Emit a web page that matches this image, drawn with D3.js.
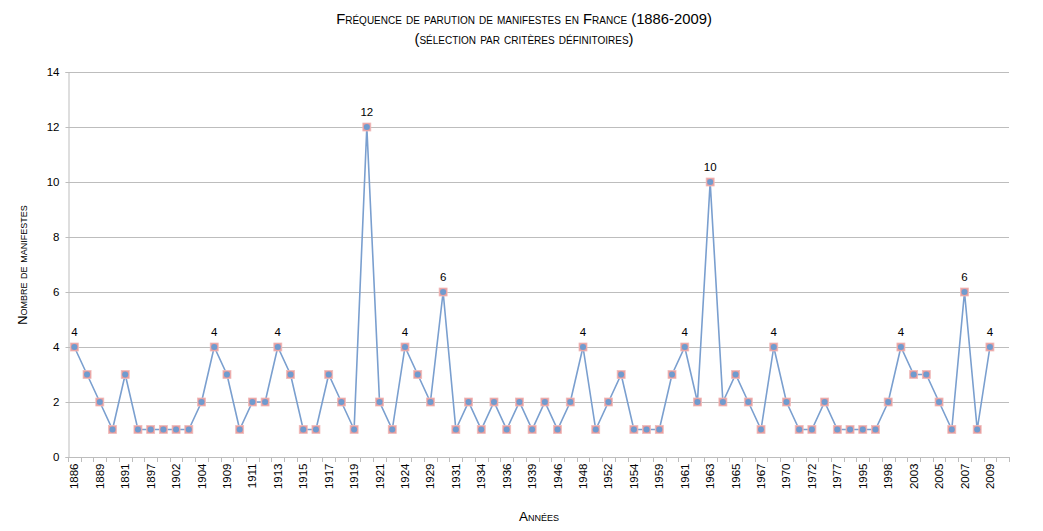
<!DOCTYPE html>
<html><head><meta charset="utf-8">
<script src="https://cdn.jsdelivr.net/npm/d3@7"></script>
<style>
body{margin:0;background:#fff;}
svg{display:block;}
text{fill:#000;}
</style></head>
<body><svg id="c" width="1043" height="531"></svg>
<script>
const years = ["1886","1888","1889","1890","1891","1895","1897","1900","1902","1903","1904","1906","1909","1910","1911","1912","1913","1914","1915","1916","1917","1918","1919","1920","1921","1922","1924","1925","1929","1930","1931","1932","1934","1935","1936","1937","1939","1945","1946","1947","1948","1950","1952","1953","1954","1955","1959","1960","1961","1962","1963","1964","1965","1966","1967","1968","1970","1971","1972","1975","1977","1980","1995","1996","1998","2000","2003","2004","2005","2006","2007","2008","2009"];
const counts = [4,3,2,1,3,1,1,1,1,1,2,4,3,1,2,2,4,3,1,1,3,2,1,12,2,
                1,4,3,2,6,1,2,1,2,1,2,1,2,1,2,4,1,2,3,1,1,1,3,4,2,
                10,2,3,2,1,4,2,1,1,2,1,1,1,1,2,4,3,3,2,1,6,1,4];
const yTicks = [0,2,4,6,8,10,12,14];
const titleLines = ["Fréquence de parution de manifestes en France (1886-2009)","(sélection par critères définitoires)"];
const yTitle = "Nombre de manifestes";
const xTitle = "Années";
const labelMin = 4;

const data = years.map((y,i)=>({year:y, value:counts[i]}));
const svg = d3.select("#c");
const L=68, R=1009, T=72, B=457;
// one trailing empty slot, as in the reference
const x = d3.scaleBand().domain([...years, "_end"]).range([L,R]).padding(0);
const y = d3.scaleLinear().domain([0,14]).range([B,T]);
const cx = d => x(d.year)+x.bandwidth()/2;

const numFont = "Liberation Sans, Arial, sans-serif";
const capFont = "Liberation Sans Narrow, Liberation Sans, sans-serif";

// gridlines
svg.append("g").selectAll("line").data(yTicks.filter(t=>t>0)).join("line")
  .attr("x1",L).attr("x2",R).attr("y1",d=>y(d)+0.5).attr("y2",d=>y(d)+0.5)
  .attr("stroke","#bdbdbd").attr("stroke-width",1);

// y axis
const ya = svg.append("g").attr("transform",`translate(${L+0.5},0)`)
  .call(d3.axisLeft(y).tickValues(yTicks).tickSize(3).tickPadding(6));
ya.select(".domain").attr("stroke","#bdbdbd");
ya.selectAll(".tick line").attr("stroke","#bdbdbd");
ya.selectAll(".tick text").attr("font-family",numFont).attr("font-size",11.5).attr("fill","#000");

// x axis
const xa = svg.append("g").attr("transform",`translate(0,${B+0.5})`)
  .call(d3.axisBottom(x).tickValues(years.filter((d,i)=>i%2===0)).tickSize(0).tickPadding(0));
xa.select(".domain").attr("stroke","#bdbdbd").attr("d",`M${L},0H${R}`);
xa.selectAll(".tick text")
  .attr("font-family",numFont).attr("font-size",11.5).attr("fill","#000")
  .attr("transform","translate(0,6) rotate(-90)")
  .attr("text-anchor","end").attr("dy","0.35em").attr("x",0).attr("y",0);
// boundary ticks
svg.append("g").selectAll("line").data(d3.range(x.domain().length+1)).join("line")
  .attr("x1",i=>Math.round(L+i*x.step())+0.5).attr("x2",i=>Math.round(L+i*x.step())+0.5)
  .attr("y1",B).attr("y2",B+5).attr("stroke","#bdbdbd");

// line
svg.append("path").datum(data)
  .attr("d",d3.line().x(cx).y(d=>y(d.value)))
  .attr("fill","none").attr("stroke","#7a9fcf").attr("stroke-width",1.6);

// markers
const m = svg.append("g").selectAll("g").data(data).join("g")
  .attr("transform",d=>`translate(${cx(d)},${y(d.value)})`);
m.append("rect").attr("x",-4).attr("y",-4).attr("width",8).attr("height",8)
  .attr("fill","#e89c9c").attr("stroke","#f0bcbc").attr("stroke-width",0.8);
m.append("circle").attr("r",3).attr("fill","#6f9bcf");

// data labels
svg.append("g").selectAll("text").data(data.filter(d=>d.value>=labelMin)).join("text")
  .attr("x",cx).attr("y",d=>y(d.value)-11.5)
  .attr("text-anchor","middle").attr("font-family",numFont).attr("font-size",11.5)
  .text(d=>d.value);

// titles
svg.append("g").selectAll("text").data(titleLines).join("text")
  .attr("x",524).attr("y",(d,i)=>24+i*20)
  .attr("text-anchor","middle").attr("font-family",capFont).attr("font-size",14.8)
  .style("font-variant","small-caps")
  .text(d=>d);

svg.append("text").attr("transform","translate(27,265) rotate(-90)")
  .attr("text-anchor","middle").attr("font-family",capFont).attr("font-size",12.8)
  .style("font-variant","small-caps").text(yTitle);

svg.append("text").attr("x",539).attr("y",521)
  .attr("text-anchor","middle").attr("font-family",capFont).attr("font-size",13.5)
  .style("font-variant","small-caps").text(xTitle);
</script></body></html>
